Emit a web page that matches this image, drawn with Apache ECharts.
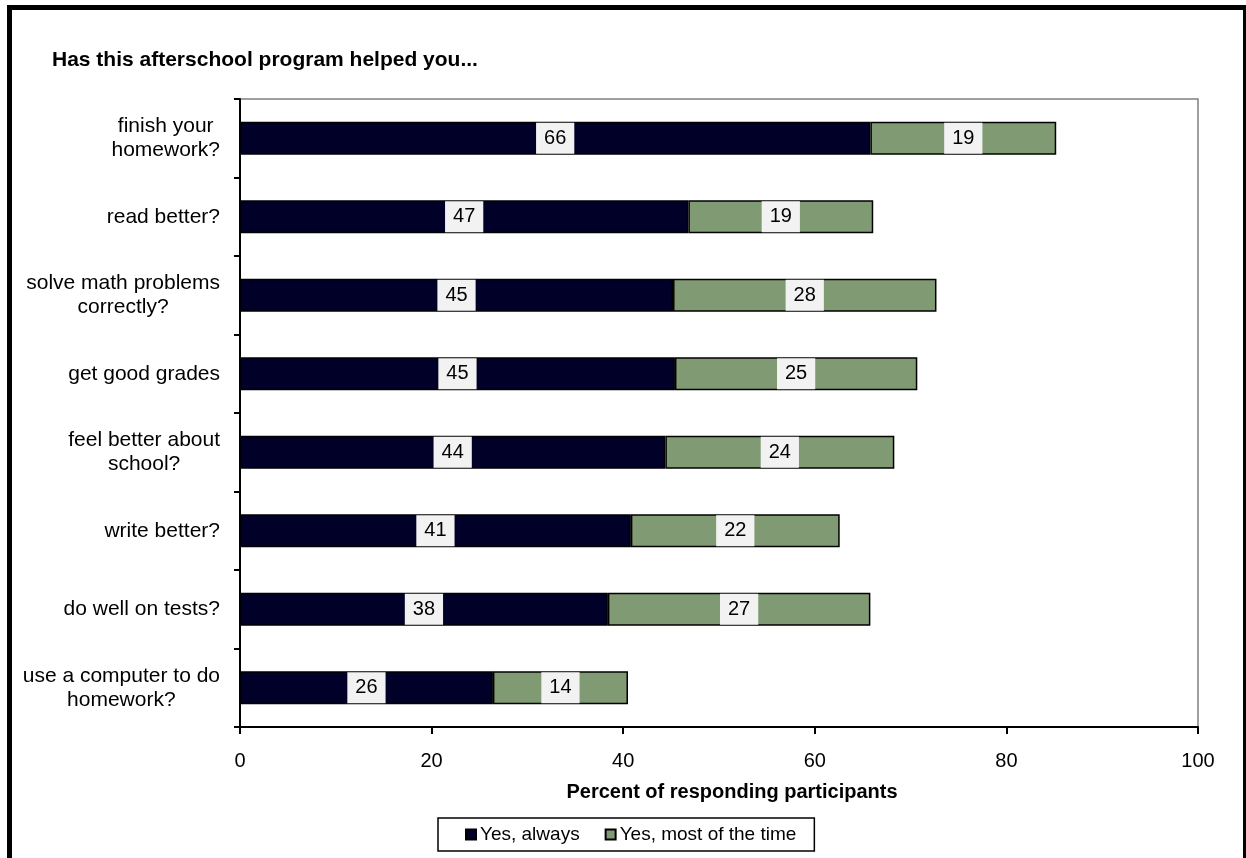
<!DOCTYPE html>
<html>
<head>
<meta charset="utf-8">
<script src="https://cdn.jsdelivr.net/npm/echarts@6/dist/echarts.min.js"></script>
<style>
html,body{margin:0;padding:0;background:#fff;}
#chart{width:1246px;height:858px;}
</style>
</head>
<body>
<div id="chart"></div>
<script>
const titleText = 'Has this afterschool program helped you...';
const categories = [
  'finish your\nhomework?',
  'read better?',
  'solve math problems\ncorrectly?',
  'get good grades',
  'feel better about\nschool?',
  'write better?',
  'do well on tests?',
  'use a computer to do\nhomework?'
];
const seriesNames = ['Yes, always', 'Yes, most of the time'];
const alwaysValues = [65.8, 46.8, 45.2, 45.4, 44.4, 40.8, 38.4, 26.4];
const mostValues = [19.4, 19.3, 27.5, 25.3, 23.9, 21.8, 27.4, 14.1];
const xTicks = [0, 20, 40, 60, 80, 100];
const xAxisName = 'Percent of responding participants';

const FONT = '"Liberation Sans", Arial, sans-serif';
const chart = echarts.init(document.getElementById('chart'), null, {renderer: 'canvas'});

const labelStyle = {
  show: true,
  position: 'inside',
  formatter: p => String(Math.round(p.value)),
  backgroundColor: '#f2f2f2',
  color: '#000',
  fontFamily: FONT,
  fontSize: 20,
  lineHeight: 20,
  padding: [6, 8, 5, 8]
};

chart.setOption({
  animation: false,
  backgroundColor: '#fff',
  title: {
    text: titleText,
    left: 52,
    top: 50,
    padding: 0,
    textStyle: {fontFamily: FONT, fontSize: 21, fontWeight: 'bold', color: '#000'}
  },
  graphic: [{
    type: 'rect',
    shape: {x: 9.5, y: 7.5, width: 1236, height: 900},
    style: {fill: null, stroke: '#000', lineWidth: 5},
    silent: true,
    z: 100
  }],
  legend: {
    data: seriesNames,
    left: 438,
    top: 818,
    orient: 'horizontal',
    padding: [7, 18, 7, 27],
    itemGap: 25,
    itemWidth: 10,
    itemHeight: 10,
    icon: 'rect',
    borderColor: '#000',
    borderWidth: 1.5,
    textStyle: {fontFamily: FONT, fontSize: 19, color: '#000', padding: [0, 0, 0, -1]}
  },
  grid: {
    left: 240,
    right: 48,
    top: 99,
    bottom: 131,
    show: true,
    borderColor: '#808080',
    borderWidth: 1.5,
    backgroundColor: '#fff'
  },
  xAxis: {
    type: 'value',
    min: xTicks[0],
    max: xTicks[xTicks.length - 1],
    interval: xTicks[1] - xTicks[0],
    splitLine: {show: false},
    axisLine: {show: true, lineStyle: {color: '#000', width: 2}},
    axisTick: {show: true, length: 7, lineStyle: {color: '#000', width: 2}},
    axisLabel: {fontFamily: FONT, fontSize: 20, color: '#000', margin: 24},
    name: xAxisName,
    nameLocation: 'middle',
    nameGap: 55,
    nameTextStyle: {fontFamily: FONT, fontSize: 20, fontWeight: 'bold', color: '#000', padding: [0, 0, 0, 26]}
  },
  yAxis: {
    type: 'category',
    data: categories,
    inverse: true,
    axisLine: {show: true, lineStyle: {color: '#000', width: 2}},
    axisTick: {show: true, length: 6, lineStyle: {color: '#000', width: 2}},
    splitLine: {show: false},
    axisLabel: {
      margin: 20,
      color: '#000',
      fontFamily: FONT,
      fontSize: 21,
      lineHeight: 24,
      formatter: v => v.split('\n').map(s => '{c|' + s + '}').join('\n'),
      rich: {c: {align: 'center', fontFamily: FONT, fontSize: 21, lineHeight: 24, color: '#000'}}
    }
  },
  series: [
    {
      name: seriesNames[0],
      type: 'bar',
      stack: 'total',
      data: alwaysValues,
      barWidth: 33,
      itemStyle: {color: '#000028', borderColor: '#000', borderWidth: 1.5},
      label: labelStyle
    },
    {
      name: seriesNames[1],
      type: 'bar',
      stack: 'total',
      data: mostValues,
      barWidth: 33,
      itemStyle: {color: '#809a73', borderColor: '#000', borderWidth: 1.5},
      label: labelStyle
    }
  ]
});
</script>
</body>
</html>
